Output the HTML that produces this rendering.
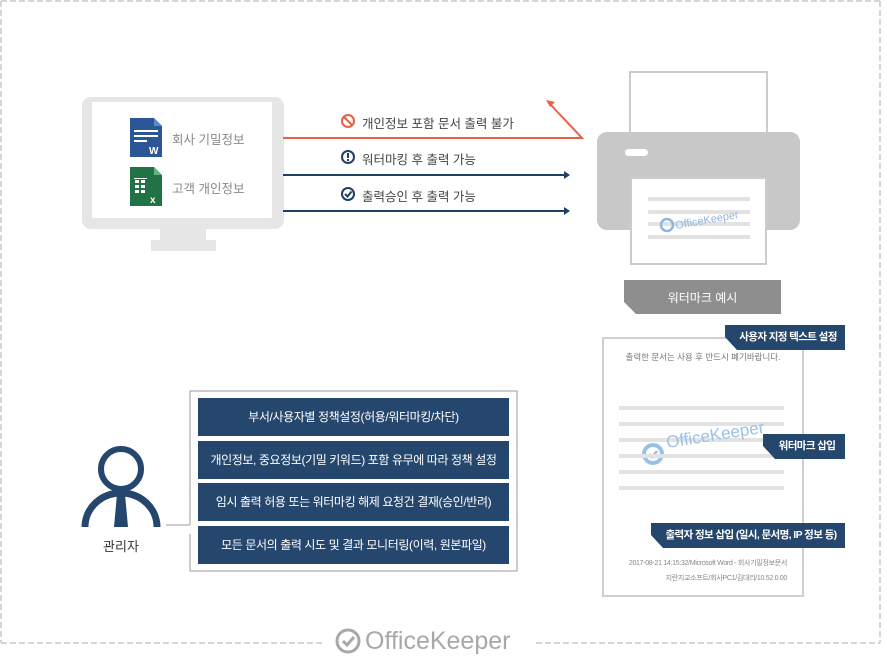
<!DOCTYPE html>
<html><head><meta charset="utf-8"><style>
*{margin:0;padding:0;box-sizing:border-box}
body{width:887px;height:662px;background:#fff;position:relative;overflow:hidden;font-family:"Liberation Sans","Noto Sans CJK KR",sans-serif}
.a{position:absolute}
.t{position:absolute;white-space:nowrap}
.btn{position:absolute;left:198px;width:311px;height:38px;background:#25476d;color:#fff;font-size:12px;letter-spacing:-0.4px;line-height:38px;text-align:center;white-space:nowrap;overflow:hidden}
.tag{position:absolute;background:#25476d;color:#fff;font-size:10.5px;letter-spacing:-0.6px;font-weight:bold;height:25px;line-height:25px;text-align:center;white-space:nowrap;clip-path:polygon(0 0,100% 0,100% 100%,12px 100%,0 12px)}
.dl{position:absolute;background:#e2e2e2;height:4px}
</style></head><body>
<svg class="a" style="left:0;top:0" width="887" height="662">
<g stroke="#d6d6d6" stroke-width="2" fill="none" stroke-dasharray="6 3">
<line x1="1" y1="1" x2="880" y2="1"/>
<line x1="1" y1="1" x2="1" y2="643"/>
<line x1="880" y1="1" x2="880" y2="643"/>
<line x1="1" y1="643" x2="322" y2="643"/>
<line x1="536" y1="643" x2="880" y2="643"/>
</g>
<rect x="82" y="97" width="202" height="132" rx="9" fill="#e6e6e6"/>
<rect x="92" y="102" width="180" height="116" fill="#fff"/>
<rect x="160" y="229" width="46" height="11" fill="#e6e6e6"/>
<rect x="151" y="240" width="65" height="11" fill="#e6e6e6"/>
<path d="M130 118h24l8 8v31h-32z" fill="#2b5797"/>
<path d="M154 118l8 8h-8z" fill="#5b87cf"/>
<rect x="134" y="130" width="24" height="2" fill="#fff"/><rect x="134" y="135" width="24" height="2" fill="#fff"/><rect x="134" y="140" width="13" height="2" fill="#fff"/>
<text x="149" y="154" fill="#fff" font-size="10" font-weight="bold" font-family="Liberation Sans">W</text>
<path d="M130 167h24l8 8v31h-32z" fill="#217346"/>
<path d="M154 167l8 8h-8z" fill="#5fb37c"/>
<g fill="#fff"><rect x="135" y="180" width="4" height="3"/><rect x="141" y="180" width="4" height="3"/><rect x="135" y="185" width="4" height="3"/><rect x="141" y="185" width="4" height="3"/><rect x="135" y="190" width="4" height="3"/><rect x="141" y="190" width="4" height="3"/><rect x="134" y="178" width="13" height="1"/></g>
<text x="150" y="203" fill="#fff" font-size="10" font-weight="bold" font-family="Liberation Sans">x</text>
<polyline points="283,138 582,138 550,104" fill="none" stroke="#e8604a" stroke-width="2"/>
<path d="M546,100 l9,2 l-5,5z" fill="#e8604a"/>
<line x1="283" y1="175" x2="566" y2="175" stroke="#1f3f66" stroke-width="2"/><path d="M564,171 l6,4 l-6,4z" fill="#1f3f66"/>
<line x1="283" y1="211" x2="566" y2="211" stroke="#1f3f66" stroke-width="2"/><path d="M564,207 l6,4 l-6,4z" fill="#1f3f66"/>
<circle cx="348" cy="121" r="6" fill="none" stroke="#e8604a" stroke-width="2"/><line x1="344" y1="117" x2="352" y2="125" stroke="#e8604a" stroke-width="2"/>
<circle cx="348" cy="157" r="6" fill="none" stroke="#1f3f66" stroke-width="2"/><rect x="347" y="153" width="2" height="5" fill="#1f3f66"/><rect x="347" y="159" width="2" height="2" fill="#1f3f66"/>
<circle cx="348" cy="194" r="6" fill="none" stroke="#1f3f66" stroke-width="2"/><polyline points="345,194 347.5,196.5 351.5,191.5" fill="none" stroke="#1f3f66" stroke-width="2"/>
<rect x="630" y="72" width="137" height="70" fill="#fff" stroke="#cccccc" stroke-width="2"/>
<rect x="597" y="132" width="203" height="98" rx="10" fill="#c8c8c8"/>
<rect x="625" y="149" width="23" height="7" rx="3.5" fill="#fff"/>
<rect x="631" y="178" width="135" height="86" fill="#fff" stroke="#cccccc" stroke-width="2"/>
<g fill="#e2e2e2"><rect x="648" y="197" width="102" height="4"/><rect x="648" y="210" width="102" height="4"/><rect x="648" y="222" width="102" height="4"/><rect x="648" y="235" width="102" height="4"/></g>
<circle cx="667" cy="225" r="6" fill="none" stroke="#8fb6df" stroke-width="2.5"/>
<text x="676" y="229" fill="#8fb6df" font-size="11" font-family="Liberation Sans" transform="rotate(-10 676 229)">OfficeKeeper</text>
<path d="M624 280h157v34h-145l-12-12z" fill="#8e8e8e"/>
<rect x="603" y="338" width="200" height="258" fill="#fff" stroke="#cfcfcf" stroke-width="2"/>
<circle cx="653" cy="454" r="9" fill="none" stroke="#9bc0e6" stroke-width="4"/>
<polyline points="649,454 652,457 657,451" fill="none" stroke="#9bc0e6" stroke-width="2.5"/>
<circle cx="121" cy="469" r="20" fill="none" stroke="#25476d" stroke-width="6"/>
<path d="M85 527 A36 34 0 0 1 157 527" fill="none" stroke="#25476d" stroke-width="7"/>
<path d="M117 494h8l3 33h-14z" fill="#25476d"/>
<polyline points="166,525 190,525" stroke="#999" stroke-width="1" fill="none"/>
<polyline points="190,525 190,391 517,391 517,571 190,571 190,534" stroke="#9a9a9a" stroke-width="1" fill="none"/>
<circle cx="348" cy="641" r="11" fill="none" stroke="#a8a8a8" stroke-width="3"/>
<polyline points="343,641 347,645 354,637" fill="none" stroke="#a8a8a8" stroke-width="3"/>
</svg>
<div class="t" style="left:172px;top:129px;font-size:12.5px;color:#888">회사 기밀정보</div>
<div class="t" style="left:172px;top:178px;font-size:12.5px;color:#888">고객 개인정보</div>
<div class="t" style="left:362px;top:113px;font-size:12.5px;color:#444">개인정보 포함 문서 출력 불가</div>
<div class="t" style="left:362px;top:149px;font-size:12.5px;color:#444">워터마킹 후 출력 가능</div>
<div class="t" style="left:362px;top:186px;font-size:12.5px;color:#444">출력승인 후 출력 가능</div>
<div class="t" style="left:624px;top:289px;width:157px;text-align:center;font-size:12px;color:#fff">워터마크 예시</div>
<div class="t" style="left:603px;top:351px;width:200px;text-align:center;font-size:8.5px;color:#777">출력한 문서는 사용 후 반드시 폐기바랍니다.</div>
<div class="dl" style="left:619px;top:406px;width:165px"></div>
<div class="dl" style="left:619px;top:422px;width:165px"></div>
<div class="dl" style="left:619px;top:438px;width:165px"></div>
<div class="dl" style="left:619px;top:454px;width:165px"></div>
<div class="dl" style="left:619px;top:470px;width:165px"></div>
<div class="dl" style="left:619px;top:486px;width:165px"></div>
<div class="t" style="left:668px;top:433px;font-size:17px;color:#9bc0e6;transform:rotate(-9deg);transform-origin:left bottom">OfficeKeeper</div>
<div class="tag" style="left:725px;top:325px;width:120px;padding-left:6px">사용자 지정 텍스트 설정</div>
<div class="tag" style="left:763px;top:434px;width:82px;padding-left:6px">워터마크 삽입</div>
<div class="tag" style="left:651px;top:523px;width:194px;padding-left:6px">출력자 정보 삽입 (일시, 문서명, IP 정보 등)</div>
<div class="t" style="left:603px;top:558px;width:184px;text-align:right;font-size:7px;letter-spacing:-0.3px;color:#888">2017-08-21 14:15:32/Microsoft Word - 회사기밀정보문서</div>
<div class="t" style="left:603px;top:573px;width:184px;text-align:right;font-size:7px;letter-spacing:-0.3px;color:#888">지란지교소프트/회사PC1/김대리/10.52.0.00</div>
<div class="t" style="left:90px;top:536px;width:62px;text-align:center;font-size:13px;color:#333">관리자</div>
<div class="btn" style="top:398px">부서/사용자별 정책설정(허용/워터마킹/차단)</div>
<div class="btn" style="top:441px">개인정보, 중요정보(기밀 키워드) 포함 유무에 따라 정책 설정</div>
<div class="btn" style="top:483px">임시 출력 허용 또는 워터마킹 해제 요청건 결재(승인/반려)</div>
<div class="btn" style="top:526px">모든 문서의 출력 시도 및 결과 모니터링(이력, 원본파일)</div>
<div class="t" style="left:365px;top:627px;font-size:25px;color:#a8a8a8">OfficeKeeper</div>
</body></html>
